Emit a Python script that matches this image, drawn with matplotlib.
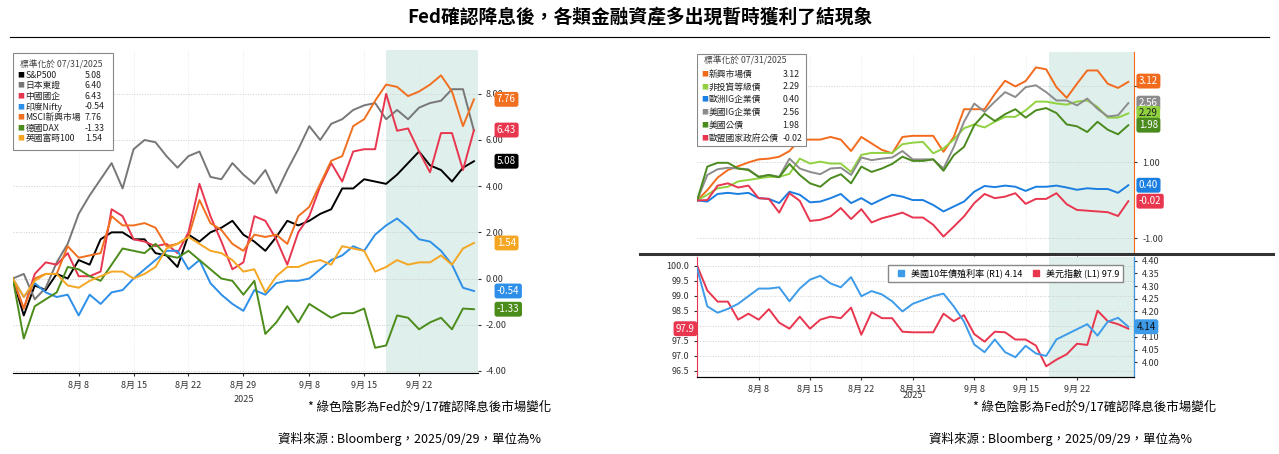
import numpy as np
import matplotlib.pyplot as plt
import matplotlib.transforms as mtrans
from matplotlib.patches import Rectangle
from matplotlib.lines import Line2D

plt.rcParams['font.family'] = ['Noto Sans CJK TC', 'DejaVu Sans']

# ---- 左圖：股市 (標準化於 07/31/2025)
sp500 = [0,-1.6,-0.3,-0.5,0.2,0,0.8,0.6,1.7,2.0,2.0,1.7,1.7,1.1,1.0,0.5,1.9,1.6,2.0,2.2,2.5,1.9,1.6,1.2,1.8,2.5,2.3,2.5,2.8,3.0,3.9,3.9,4.3,4.2,4.1,4.5,5.0,5.5,4.9,4.7,4.2,4.8,5.08]
japan = [0,0.2,-0.9,-0.4,0.7,1.5,2.8,3.6,4.3,5.0,3.9,5.6,6.0,5.9,5.3,4.8,5.3,5.5,4.4,4.3,5.0,4.5,4.1,4.7,3.7,4.7,5.6,6.6,6.0,6.7,6.9,7.3,7.5,7.6,6.9,7.3,6.9,7.4,7.6,7.7,8.2,8.2,6.40]
china = [0,-1.3,0.2,0.7,0.6,1.1,0.1,0.1,0.3,3.0,2.7,1.7,1.6,1.4,1.5,1.1,2.0,4.1,2.7,1.6,0.4,0.7,2.7,2.5,1.7,0.6,2.0,2.7,4.0,5.0,4.2,5.5,5.6,5.6,8.0,6.4,6.5,5.5,4.6,6.3,6.3,4.7,6.43]
india = [0,-0.8,-0.2,-0.6,-0.8,-0.7,-1.6,-0.7,-1.1,-0.6,-0.5,0,0.4,0.8,1.2,1.2,0.4,0.8,-0.2,-0.7,-1.1,-1.4,-0.5,-0.7,-0.2,-0.1,-0.1,0,0.4,0.8,1.0,1.4,1.2,1.9,2.3,2.6,2.2,1.7,1.6,1.2,0.6,-0.4,-0.54]
msci_em = [0,-1.3,0,0.2,0.2,1.4,0.9,1.0,1.1,2.7,2.3,2.3,2.4,2.2,1.4,1.5,1.8,3.4,2.4,2.1,1.5,1.2,1.9,1.8,1.9,1.5,2.7,3.1,4.1,5.1,5.3,6.6,6.9,7.7,8.4,8.3,7.9,8.1,8.4,8.8,8.1,6.6,7.76]
dax = [0,-2.6,-1.2,-0.9,-0.6,0.5,0.4,0.1,-0.1,0.6,1.3,1.2,1.1,1.5,1.0,0.9,1.2,0.8,0.4,0,-0.1,-0.7,-0.1,-2.4,-1.9,-1.2,-1.9,-1.1,-1.4,-1.7,-1.5,-1.5,-1.3,-3.0,-2.9,-1.6,-1.7,-2.2,-1.9,-1.7,-2.2,-1.3,-1.33]
ftse = [0,-0.8,-0.1,0.2,0.2,-0.3,-0.4,-0.1,0.1,0.3,0.3,0,0.2,0.5,1.3,1.5,1.8,1.5,1.2,1.1,0.8,0.3,0.4,-0.6,0.1,0.5,0.5,0.7,0.8,0.6,1.4,1.3,1.2,0.3,0.5,0.8,0.6,0.7,0.7,1.0,0.6,1.3,1.54]

left_names = ['S&P500', '日本東證', '中國國企', '印度Nifty', 'MSCI新興市場', '德國DAX', '英國富時100']
left_series = [sp500, japan, china, india, msci_em, dax, ftse]
left_colors = ['#000000', '#777777', '#e8364f', '#2d8fe8', '#f07020', '#4c8c1a', '#f5a623']
left_label_idx = [4, 2, 0, 6, 3, 5]

# ---- 右圖上：債市
em_bond = [0,0.27,0.6,0.8,0.9,1.0,1.08,1.1,1.15,1.3,1.6,1.6,1.6,1.67,1.6,1.3,1.67,1.5,1.33,1.24,1.67,1.7,1.7,1.7,1.28,1.67,2.4,2.4,2.4,2.8,3.15,3.0,3.14,3.5,3.45,2.98,2.7,3.07,3.42,3.42,3.07,2.96,3.12]
high_yield = [0,0.15,0.32,0.36,0.5,0.54,0.58,0.62,0.62,0.7,1.1,0.97,1.02,0.97,0.97,0.75,1.2,1.25,1.25,1.25,1.48,1.52,1.54,1.24,1.37,1.6,1.9,2.0,1.92,2.07,2.2,2.2,2.37,2.6,2.6,2.55,2.52,2.6,2.63,2.46,2.18,2.18,2.29]
euro_ig = [0,-0.03,0.17,0.2,0.17,0.2,0.06,0.04,-0.07,0.23,0.15,-0.05,-0.03,0.06,0.17,-0.07,0.06,-0.1,0.03,0.15,0.1,0.01,0.01,-0.12,-0.29,-0.16,-0.03,0.23,0.38,0.35,0.39,0.36,0.25,0.36,0.36,0.39,0.34,0.28,0.32,0.3,0.3,0.2,0.40]
us_ig = [0,0.67,0.82,0.86,0.84,0.82,0.62,0.67,0.62,1.1,0.84,0.75,0.69,0.84,0.86,0.67,1.13,1.06,1.1,1.13,1.3,1.08,1.08,1.08,0.84,1.4,2.07,2.55,2.33,2.6,2.85,2.72,2.98,3.03,2.85,2.63,2.63,2.5,2.68,2.41,2.21,2.24,2.56]
us_tsy = [0,0.89,0.99,0.99,0.84,0.8,0.62,0.67,0.61,0.96,0.67,0.45,0.36,0.58,0.69,0.45,0.89,0.75,0.84,0.96,1.15,1.04,1.04,1.08,0.78,1.19,1.41,1.98,2.28,2.09,2.27,2.4,2.18,2.37,2.43,2.3,2.0,1.95,1.8,2.07,1.86,1.74,1.98]
eu_gov = [0,0.01,0.39,0.45,0.34,0.39,0.06,0.04,-0.32,0.19,-0.01,-0.54,-0.51,-0.42,-0.2,-0.49,-0.23,-0.58,-0.47,-0.4,-0.32,-0.45,-0.45,-0.64,-0.95,-0.69,-0.42,-0.07,0.17,0.06,0.1,0.19,-0.09,0.04,0.04,0.19,-0.1,-0.25,-0.27,-0.29,-0.31,-0.41,-0.02]

right_names = ['新興市場債', '非投資等級債', '歐洲IG企業債', '美國IG企業債', '美國公債', '歐盟國家政府公債']
right_series = [em_bond, high_yield, euro_ig, us_ig, us_tsy, eu_gov]
right_colors = ['#f26b1d', '#8fd13f', '#1a7fe0', '#8c8c8c', '#4a8a1e', '#e8364f']
right_label_y = [3.14, 2.56, 2.29, 1.98, 0.40, -0.02]
right_label_idx = [0, 3, 1, 4, 2, 5]

# ---- 右圖下：美元指數 / 美國10年債殖利率
dxy = [100.0,99.17,98.8,98.8,98.2,98.4,98.2,98.55,98.1,97.9,98.3,97.9,98.2,98.3,98.25,98.6,97.7,98.45,98.25,98.25,97.8,97.78,97.78,97.78,98.4,98.15,98.35,97.72,97.47,97.8,97.78,97.54,97.54,97.34,96.65,96.87,97.05,97.4,97.36,98.5,98.15,98.05,97.9]
ust10 = [4.37,4.22,4.195,4.21,4.23,4.26,4.29,4.29,4.295,4.24,4.29,4.325,4.34,4.31,4.295,4.335,4.26,4.28,4.267,4.24,4.2,4.23,4.245,4.26,4.27,4.22,4.16,4.07,4.04,4.09,4.04,4.02,4.065,4.035,4.025,4.09,4.11,4.13,4.15,4.105,4.16,4.175,4.14]

left_ticks = [6, 11, 16, 21, 27, 32, 37]
left_ticklabels = ['8月 8', '8月 15', '8月 22', '8月 29', '9月 8', '9月 15', '9月 22']
right_ticklabels = ['8月 8', '8月 15', '8月 22', '8月 31', '9月 8', '9月 15', '9月 22']
shade_start = 34

x = np.arange(len(sp500))
fig = plt.figure(figsize=(12.79, 4.54), dpi=100)

fig.text(0.5, 0.962, 'Fed確認降息後，各類金融資產多出現暫時獲利了結現象', ha='center', va='center',
         fontsize=13.5, fontweight='bold')
fig.add_artist(plt.Line2D([0.008, 0.992], [0.918, 0.918], color='black', lw=0.8))


def label_box(ax, xpos, y, text, color, fc_text='white', side='left'):
    tr = mtrans.blended_transform_factory(ax.transAxes, ax.transData)
    ax.text(xpos, y, text, transform=tr, ha=side, va='center', fontsize=7, color=fc_text,
            bbox=dict(boxstyle='round,pad=0.25', fc=color, ec='none'), clip_on=False, zorder=10)


def legend_box(ax, x0, y0, w, h, title, names, vals, colors, valx, fs=6.3):
    ax.add_patch(Rectangle((x0, y0 - h), w, h, transform=ax.transAxes, fc='white', ec='#888888',
                           lw=0.8, zorder=8))
    ax.text(x0 + 0.015, y0 - 0.035, title, transform=ax.transAxes, fontsize=fs, color='#444444',
            va='center', zorder=9)
    step = (h - 0.07) / len(names)
    for i, (n, v, c) in enumerate(zip(names, vals, colors)):
        yy = y0 - 0.035 - step * (i + 1)
        ax.text(x0 + 0.010, yy, '■', transform=ax.transAxes, fontsize=5, color=c, va='center', zorder=9)
        ax.text(x0 + 0.027, yy, n, transform=ax.transAxes, fontsize=fs, color='#222222', va='center', zorder=9)
        ax.text(x0 + valx, yy, v, transform=ax.transAxes, fontsize=fs, color='#222222', va='center', zorder=9)


def style_axis(ax):
    for s in ['top', 'left']:
        ax.spines[s].set_visible(False)
    ax.grid(axis='y', color='#cccccc', ls=':', lw=0.7)
    ax.grid(axis='x', color='#e6e6e6', ls=':', lw=0.6)
    ax.tick_params(labelsize=6.5, colors='#333333', length=2)


# ---- 左圖
ax1 = fig.add_axes([0.010, 0.178, 0.364, 0.712])
for s, c in zip(left_series, left_colors):
    ax1.plot(x, s, color=c, lw=1.4)
ax1.axvspan(shade_start, 42.6, color='#d8ece6', alpha=0.8, lw=0, zorder=0)
ax1.set_xlim(0, 42.4)
ax1.set_ylim(-4.1, 9.9)
ax1.yaxis.tick_right()
ax1.set_yticks([-4, -2, 0, 2, 4, 6, 8])
ax1.set_yticklabels(['-4.00', '-2.00', '0.00', '2.00', '4.00', '6.00', '8.00'])
ax1.set_xticks(left_ticks)
ax1.set_xticklabels(left_ticklabels)
style_axis(ax1)
ax1.spines['right'].set_visible(False)
ax1.text(21, -5.35, '2025', ha='center', fontsize=6.5, color='#333333')
for i in left_label_idx:
    s = left_series[i]
    label_box(ax1, 1.04, s[-1], f'{s[-1]:.2f}', left_colors[i])
legend_box(ax1, 0.0, 0.99, 0.215, 0.30, '標準化於 07/31/2025', left_names,
           [f'{s[-1]:.2f}' for s in left_series], left_colors, 0.155)

# ---- 右圖上
ax2 = fig.add_axes([0.545, 0.443, 0.342, 0.442])
for s, c in zip(right_series, right_colors):
    ax2.plot(x, s, color=c, lw=1.4)
ax2.axvspan(shade_start + 0.3, 43, color='#d8ece6', alpha=0.8, lw=0, zorder=0)
ax2.set_xlim(0, 42.6)
ax2.set_ylim(-1.38, 3.9)
ax2.yaxis.tick_right()
ax2.set_yticks([-1, 1, 3])
ax2.set_yticklabels(['-1.00', '1.00', ''])
ax2.set_xticks(left_ticks)
ax2.tick_params(axis='x', labelbottom=False, length=0)
style_axis(ax2)
ax2.spines['right'].set_color('#f26b1d')
ax2.spines['bottom'].set_visible(False)
for k, yv in zip(right_label_idx, right_label_y):
    fc = 'white' if k != 1 else '#222222'
    label_box(ax2, 1.01, yv, f'{right_series[k][-1]:.2f}', right_colors[k], fc_text=fc)
legend_box(ax2, 0.0, 0.99, 0.25, 0.455, '標準化於 07/31/2025', right_names,
           [f'{s[-1]:.2f}' for s in right_series], right_colors, 0.195)

fig.add_artist(plt.Line2D([0.500, 0.995], [0.441, 0.441], color='#333333', lw=2.2))

# ---- 右圖下
ax3 = fig.add_axes([0.545, 0.170, 0.342, 0.265])
ax4 = ax3.twinx()
ax3.plot(x, dxy, color='#e8364f', lw=1.4, zorder=3)
ax4.plot(x, ust10, color='#3d9be9', lw=1.4)
ax3.axvspan(shade_start + 0.3, 43, color='#d8ece6', alpha=0.8, lw=0, zorder=0)
ax3.set_xlim(0, 42.6)
ax3.set_ylim(96.3, 100.3)
ax4.set_ylim(3.943, 4.416)
ax3.set_yticks([96.5, 97.0, 97.5, 98.0, 98.5, 99.0, 99.5, 100.0])
ax3.set_yticklabels(['96.5', '97.0', '97.5', '', '98.5', '99.0', '99.5', '100.0'])
ax4.set_yticks(np.arange(4.0, 4.41, 0.05))
ax4.set_yticklabels([f'{v:.2f}' if abs(v - 4.15) > 0.01 else '' for v in np.arange(4.0, 4.41, 0.05)])
ax3.set_xticks(left_ticks)
ax3.set_xticklabels(right_ticklabels)
ax3.grid(axis='y', color='#cccccc', ls=':', lw=0.7)
ax3.grid(axis='x', color='#e6e6e6', ls=':', lw=0.6)
ax3.tick_params(labelsize=6.5, colors='#333333', length=2)
ax4.tick_params(labelsize=6.5, colors='#333333', length=2)
ax3.spines['top'].set_visible(False)
ax4.spines['top'].set_visible(False)
ax3.spines['left'].set_color('#e8364f')
ax4.spines['left'].set_visible(False)
ax4.spines['right'].set_color('#3d9be9')
ax3.text(21, 95.6, '2025', ha='center', fontsize=6.5, color='#333333')
label_box(ax3, -0.005, dxy[-1], f'{dxy[-1]:.1f}', '#e8364f', side='right')
label_box(ax4, 1.005, ust10[-1], f'{ust10[-1]:.2f}', '#3d9be9', fc_text='#111111')
handles = [Line2D([], [], marker='s', ls='none', color='#3d9be9', markersize=4),
           Line2D([], [], marker='s', ls='none', color='#e8364f', markersize=4)]
leg = ax4.legend(handles, [f'美國10年債殖利率 (R1) {ust10[-1]:.2f}', f'美元指數 (L1) {dxy[-1]:.1f}'],
                 loc='upper right', bbox_to_anchor=(0.985, 0.97), ncol=2, fontsize=6.5,
                 handletextpad=0.1, columnspacing=0.6, fancybox=False, edgecolor='#888888',
                 framealpha=1, borderpad=0.4)
leg.set_zorder(10)

# ---- 註腳
fig.text(0.336, 0.095, '* 綠色陰影為Fed於9/17確認降息後市場變化', ha='center', fontsize=9)
fig.text(0.32, 0.025, '資料來源 : Bloomberg，2025/09/29，單位為%', ha='center', fontsize=9)
fig.text(0.856, 0.095, '* 綠色陰影為Fed於9/17確認降息後市場變化', ha='center', fontsize=9)
fig.text(0.829, 0.025, '資料來源 : Bloomberg，2025/09/29，單位為%', ha='center', fontsize=9)

fig.savefig('out.png', dpi=100)
